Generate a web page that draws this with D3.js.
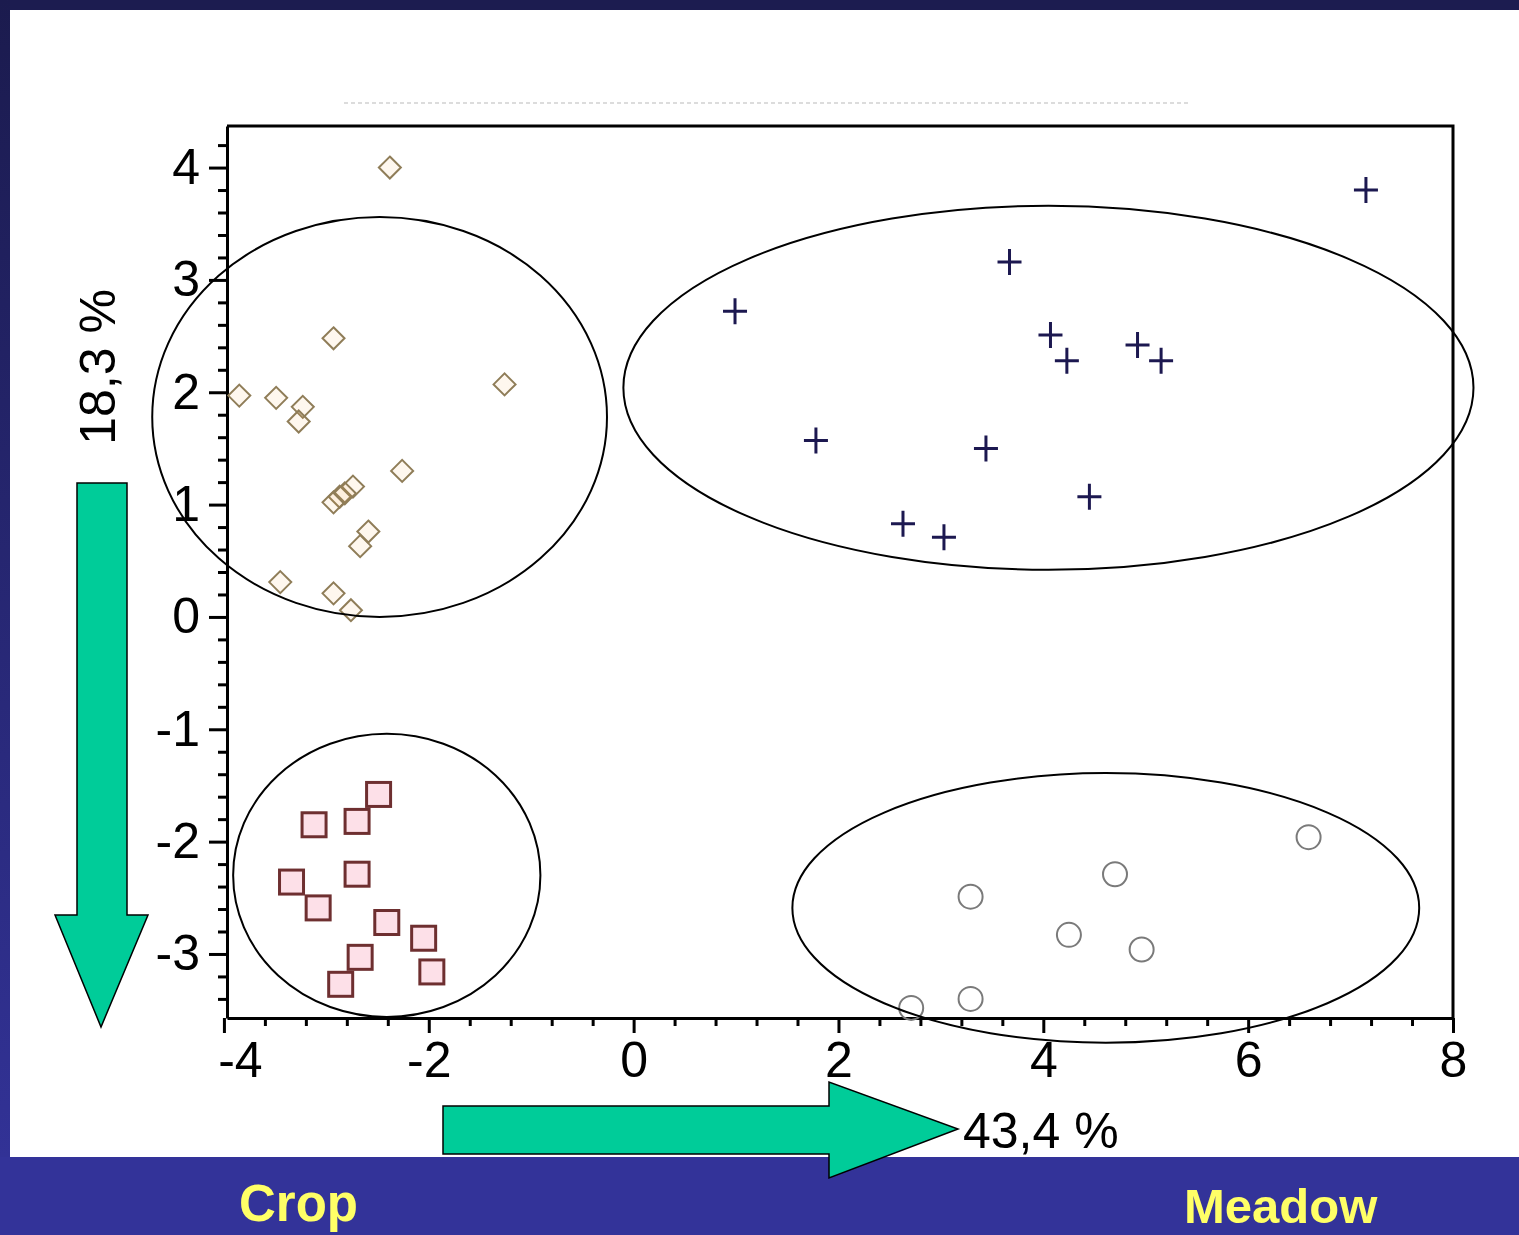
<!DOCTYPE html>
<html>
<head>
<meta charset="utf-8">
<script src="https://cdn.jsdelivr.net/npm/d3@7"></script>
<style>
  body { margin: 0; background: #ffffff; }
  svg { display: block; }
  .tick text { font-family: "Liberation Sans", Arial, sans-serif; font-size: 50px; fill: #000; }
  .domain, .tick line { stroke: #000; }
</style>
</head>
<body>
<svg></svg>
<script>
// properties for the svg canvas
const w = 1519;
const h = 1235;

// axis ticks
const xTicks = [-4, -2, 0, 2, 4, 6, 8];
const yTicks = [-3, -2, -1, 0, 1, 2, 3, 4];

// axis titles (explained variance)
const xTitle = "43,4 %";
const yTitle = "18,3 %";
const groupLabels = ["Crop", "Meadow"];

// diamonds
const diamondX = [-2.38, -2.93, -3.85, -3.49, -3.23, -3.27, -1.26, -2.26, -2.74, -2.87, -2.93, -2.82, -2.59, -2.67, -3.45, -2.93, -2.76];
const diamondY = [4.00, 2.48, 1.97, 1.95, 1.87, 1.74, 2.07, 1.30, 1.16, 1.07, 1.02, 1.10, 0.76, 0.63, 0.31, 0.21, 0.06];

// squares
const squareX = [-2.49, -3.12, -2.70, -3.34, -2.70, -3.08, -2.41, -2.05, -2.67, -1.97, -2.86];
const squareY = [-1.58, -1.85, -1.82, -2.36, -2.29, -2.59, -2.72, -2.86, -3.03, -3.16, -3.27];

// crosses
const crossX = [7.15, 3.67, 0.99, 4.07, 4.23, 4.92, 5.15, 1.78, 3.44, 4.45, 2.63, 3.03];
const crossY = [3.80, 3.16, 2.72, 2.51, 2.28, 2.42, 2.28, 1.57, 1.50, 1.07, 0.83, 0.71];

// circles
const circleX = [6.59, 4.70, 3.29, 4.25, 4.96, 3.29, 2.71];
const circleY = [-1.96, -2.29, -2.49, -2.83, -2.96, -3.40, -3.48];

// group ellipses (centre and radii in data units)
const ellipseCx = [-2.48, 4.05, -2.41, 4.61];
const ellipseCy = [1.78, 2.04, -2.30, -2.59];
const ellipseRx = [2.22, 4.15, 1.50, 3.06];
const ellipseRy = [1.78, 1.62, 1.26, 1.20];

const svg = d3.select("svg")
              .attr("width", w)
              .attr("height", h);

// slide background: dark frame, white sheet, blue band at the bottom
const grad = svg.append("defs")
                .append("linearGradient")
                .attr("id", "leftband")
                .attr("x1", 0).attr("y1", 0)
                .attr("x2", 0).attr("y2", 1);
grad.append("stop").attr("offset", "0%").attr("stop-color", "#1b1b4e");
grad.append("stop").attr("offset", "100%").attr("stop-color", "#323296");

svg.append("rect").attr("x", 0).attr("y", 0).attr("width", w).attr("height", 10).attr("fill", "#1c1c50");
svg.append("rect").attr("x", 0).attr("y", 0).attr("width", 10).attr("height", 1157).attr("fill", "url(#leftband)");
svg.append("rect").attr("x", 0).attr("y", 1157).attr("width", w).attr("height", h - 1157).attr("fill", "#333399");

// faint remains of a title line
svg.append("line")
   .attr("x1", 344).attr("x2", 1189)
   .attr("y1", 103).attr("y2", 103)
   .attr("stroke", "#dcdcdc")
   .attr("stroke-width", 2)
   .attr("stroke-dasharray", "4,3");

// scales
const xScale = d3.scaleLinear()
                 .domain([-3.97, 8])
                 .range([227, 1453]);

const yScale = d3.scaleLinear()
                 .domain([-3.57, 4.37])
                 .range([1018, 126]);

// plain hyphen for negative labels, as in the original
const tickFmt = d => String(d);

// minor ticks
const xMinor = d3.range(-3.6, 8, 0.4).map(v => +v.toFixed(1)).filter(v => Math.abs(v / 2 - Math.round(v / 2)) > 0.01);
const yMinor = d3.range(-3.4, 4.3, 0.2).map(v => +v.toFixed(1)).filter(v => Math.abs(v - Math.round(v)) > 0.01);

svg.append("g")
   .attr("transform", "translate(0, 1018)")
   .call(d3.axisBottom(xScale).tickValues(xMinor).tickSize(8).tickFormat(""))
   .call(g => g.select(".domain").remove())
   .selectAll(".tick line").attr("stroke-width", 3);

svg.append("g")
   .attr("transform", "translate(227, 0)")
   .call(d3.axisLeft(yScale).tickValues(yMinor).tickSize(9).tickFormat(""))
   .call(g => g.select(".domain").remove())
   .selectAll(".tick line").attr("stroke-width", 3);

// major axes
const xAxis = svg.append("g")
                 .attr("id", "x-axis")
                 .attr("transform", "translate(0, 1018)")
                 .call(d3.axisBottom(xScale).tickValues(xTicks).tickFormat(tickFmt).tickSize(15).tickSizeOuter(0).tickPadding(8));
xAxis.select(".domain").attr("stroke-width", 3);
xAxis.selectAll(".tick line").attr("stroke-width", 3);
xAxis.selectAll(".tick text").filter(d => d === -4).attr("dx", 16);

const yAxis = svg.append("g")
                 .attr("id", "y-axis")
                 .attr("transform", "translate(227, 0)")
                 .call(d3.axisLeft(yScale).tickValues(yTicks).tickFormat(tickFmt).tickSize(18).tickSizeOuter(0).tickPadding(9));
yAxis.select(".domain").attr("stroke-width", 3);
yAxis.selectAll(".tick line").attr("stroke-width", 3);

// top and right frame
svg.append("path")
   .attr("d", "M227," + yScale.range()[1] + "H" + xScale.range()[1] + "V" + yScale.range()[0])
   .attr("fill", "none")
   .attr("stroke", "#000")
   .attr("stroke-width", 3);

// diamonds
const diamondData = diamondX.map((x, i) => [x, diamondY[i]]);
svg.append("g")
   .selectAll("path")
   .data(diamondData)
   .enter()
   .append("path")
   .attr("transform", d => "translate(" + xScale(d[0]) + "," + yScale(d[1]) + ")")
   .attr("d", "M0,-11L11,0L0,11L-11,0Z")
   .attr("fill", "#f0a640")
   .attr("fill-opacity", 0.09)
   .attr("stroke", "#8f7d58")
   .attr("stroke-width", 2);

// squares
const squareData = squareX.map((x, i) => [x, squareY[i]]);
svg.append("g")
   .selectAll("rect")
   .data(squareData)
   .enter()
   .append("rect")
   .attr("x", d => xScale(d[0]) - 12)
   .attr("y", d => yScale(d[1]) - 12)
   .attr("width", 24)
   .attr("height", 24)
   .attr("fill", "#fde0e8")
   .attr("stroke", "#6e2f30")
   .attr("stroke-width", 3);

// crosses
const crossData = crossX.map((x, i) => [x, crossY[i]]);
svg.append("g")
   .selectAll("path")
   .data(crossData)
   .enter()
   .append("path")
   .attr("transform", d => "translate(" + xScale(d[0]) + "," + yScale(d[1]) + ")")
   .attr("d", "M-12,0H12M0,-13V13")
   .attr("stroke", "#1c1850")
   .attr("stroke-width", 3);

// circles
const circleData = circleX.map((x, i) => [x, circleY[i]]);
svg.append("g")
   .selectAll("circle")
   .data(circleData)
   .enter()
   .append("circle")
   .attr("cx", d => xScale(d[0]))
   .attr("cy", d => yScale(d[1]))
   .attr("r", 12)
   .attr("fill", "none")
   .attr("stroke", "#7a7a7a")
   .attr("stroke-width", 2);

// group ellipses
svg.append("g")
   .selectAll("ellipse")
   .data(ellipseCx)
   .enter()
   .append("ellipse")
   .attr("cx", d => xScale(d))
   .attr("cy", (d, i) => yScale(ellipseCy[i]))
   .attr("rx", (d, i) => xScale(ellipseRx[i]) - xScale(0))
   .attr("ry", (d, i) => yScale(0) - yScale(ellipseRy[i]))
   .attr("fill", "none")
   .attr("stroke", "#000")
   .attr("stroke-width", 2);

// green arrows
svg.append("path")
   .attr("d", "M77,483H127V915H148L101,1027L55,915H77Z")
   .attr("fill", "#00cc99")
   .attr("stroke", "#000")
   .attr("stroke-width", 1.5);

svg.append("path")
   .attr("d", "M443,1106H829V1082L958,1129L829,1178V1154H443Z")
   .attr("fill", "#00cc99")
   .attr("stroke", "#000")
   .attr("stroke-width", 1.5);

// axis titles
svg.append("text")
   .attr("x", 963)
   .attr("y", 1148)
   .attr("font-family", "Liberation Sans, Arial, sans-serif")
   .attr("font-size", 50)
   .attr("fill", "#000")
   .text(xTitle);

svg.append("text")
   .attr("transform", "translate(115, 367) rotate(-90)")
   .attr("text-anchor", "middle")
   .attr("font-family", "Liberation Sans, Arial, sans-serif")
   .attr("font-size", 50)
   .attr("fill", "#000")
   .text(yTitle);

// group labels in the bottom band
svg.append("text")
   .attr("x", 239)
   .attr("y", 1221)
   .attr("font-family", "Liberation Sans, Arial, sans-serif")
   .attr("font-weight", "bold")
   .attr("font-size", 51)
   .attr("fill", "#ffff66")
   .text(groupLabels[0]);

svg.append("text")
   .attr("x", 1184)
   .attr("y", 1223)
   .attr("font-family", "Liberation Sans, Arial, sans-serif")
   .attr("font-weight", "bold")
   .attr("font-size", 49)
   .attr("fill", "#ffff66")
   .text(groupLabels[1]);
</script>
</body>
</html>
